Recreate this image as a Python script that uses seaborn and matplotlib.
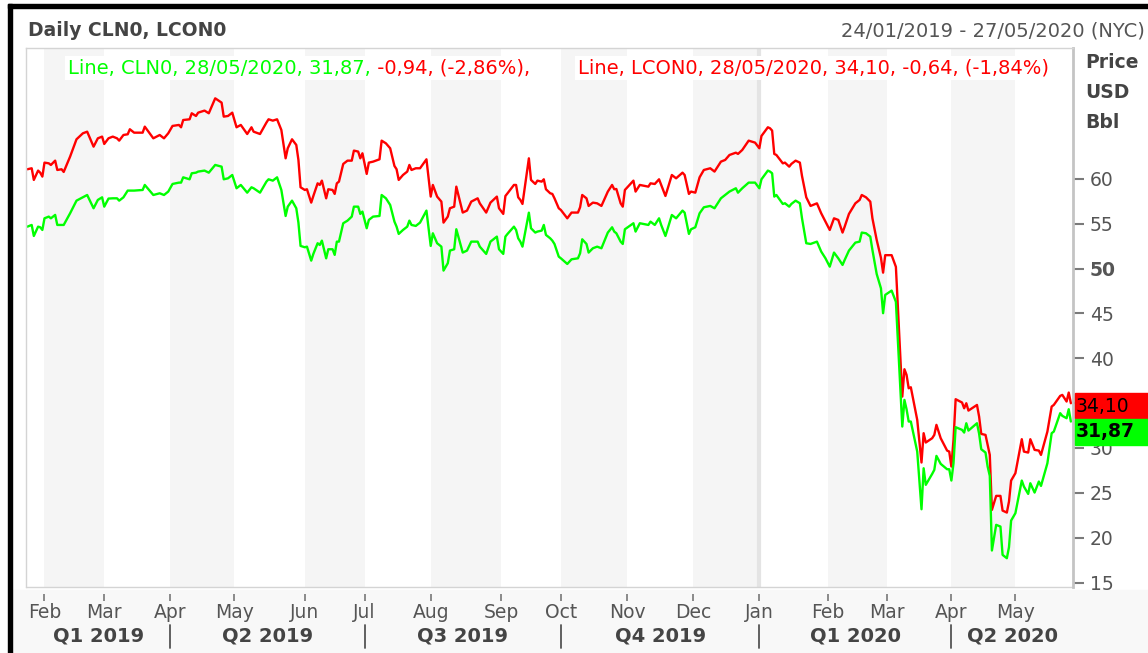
import matplotlib
matplotlib.use("Agg")
import matplotlib.pyplot as plt
import matplotlib.transforms as mtransforms
from matplotlib.patches import Rectangle
import pandas as pd
import seaborn as sns

# dates (one line per month)
dates = [
    "2019-01-24", "2019-01-26", "2019-01-27", "2019-01-29", "2019-01-30", "2019-01-31",
    "2019-02-01", "2019-02-03", "2019-02-04", "2019-02-06", "2019-02-07", "2019-02-09", "2019-02-10",
    "2019-02-13", "2019-02-16", "2019-02-19", "2019-02-21", "2019-02-24", "2019-02-26", "2019-02-28",
    "2019-03-01", "2019-03-03", "2019-03-05", "2019-03-07", "2019-03-08", "2019-03-10", "2019-03-12",
    "2019-03-13", "2019-03-15", "2019-03-19", "2019-03-20", "2019-03-24", "2019-03-27", "2019-03-29", "2019-03-31",
    "2019-04-02", "2019-04-05", "2019-04-06", "2019-04-07", "2019-04-10", "2019-04-11", "2019-04-13",
    "2019-04-14", "2019-04-17", "2019-04-19", "2019-04-22", "2019-04-25", "2019-04-26", "2019-04-28", "2019-04-30",
    "2019-05-02", "2019-05-04", "2019-05-07", "2019-05-09", "2019-05-10", "2019-05-13", "2019-05-16", "2019-05-17",
    "2019-05-19", "2019-05-21", "2019-05-23", "2019-05-25", "2019-05-26", "2019-05-28", "2019-05-30", "2019-05-31",
    "2019-06-01", "2019-06-03", "2019-06-04", "2019-06-06", "2019-06-07", "2019-06-09", "2019-06-10",
    "2019-06-11", "2019-06-13", "2019-06-14", "2019-06-16", "2019-06-17", "2019-06-18", "2019-06-19",
    "2019-06-21", "2019-06-23", "2019-06-25", "2019-06-26", "2019-06-28", "2019-06-29", "2019-06-30",
    "2019-07-02", "2019-07-03", "2019-07-05", "2019-07-08", "2019-07-09", "2019-07-11", "2019-07-13", "2019-07-15",
    "2019-07-16", "2019-07-17", "2019-07-19", "2019-07-21", "2019-07-22", "2019-07-23", "2019-07-25", "2019-07-27", "2019-07-30",
    "2019-08-01", "2019-08-02", "2019-08-04", "2019-08-06", "2019-08-07", "2019-08-09", "2019-08-10", "2019-08-12",
    "2019-08-13", "2019-08-16", "2019-08-18", "2019-08-20", "2019-08-23", "2019-08-24", "2019-08-27", "2019-08-29",
    "2019-09-01", "2019-09-02", "2019-09-04", "2019-09-05", "2019-09-06", "2019-09-09", "2019-09-10",
    "2019-09-11", "2019-09-12", "2019-09-13", "2019-09-16", "2019-09-17", "2019-09-19", "2019-09-20",
    "2019-09-22", "2019-09-23", "2019-09-24", "2019-09-26", "2019-09-27", "2019-09-28", "2019-09-30",
    "2019-10-01", "2019-10-04", "2019-10-06", "2019-10-09", "2019-10-10", "2019-10-11", "2019-10-13", "2019-10-14", "2019-10-16",
    "2019-10-18", "2019-10-20", "2019-10-23", "2019-10-25", "2019-10-26", "2019-10-27", "2019-10-29", "2019-10-30", "2019-10-31",
    "2019-11-04", "2019-11-05", "2019-11-07", "2019-11-11", "2019-11-12", "2019-11-14", "2019-11-16",
    "2019-11-17", "2019-11-19", "2019-11-22", "2019-11-24", "2019-11-27", "2019-11-28", "2019-11-30",
    "2019-12-01", "2019-12-03", "2019-12-05", "2019-12-07", "2019-12-10", "2019-12-12", "2019-12-15",
    "2019-12-17", "2019-12-19", "2019-12-22", "2019-12-23", "2019-12-25", "2019-12-28", "2019-12-31",
    "2020-01-02", "2020-01-03", "2020-01-06", "2020-01-07", "2020-01-08", "2020-01-09", "2020-01-10", "2020-01-13", "2020-01-14",
    "2020-01-16", "2020-01-17", "2020-01-19", "2020-01-21", "2020-01-22", "2020-01-24", "2020-01-26", "2020-01-29", "2020-01-31",
    "2020-02-02", "2020-02-04", "2020-02-06", "2020-02-08", "2020-02-10", "2020-02-11", "2020-02-13", "2020-02-16",
    "2020-02-18", "2020-02-19", "2020-02-21", "2020-02-23", "2020-02-24", "2020-02-26", "2020-02-28", "2020-02-29",
    "2020-03-01", "2020-03-04", "2020-03-06", "2020-03-09", "2020-03-10", "2020-03-11", "2020-03-12", "2020-03-13", "2020-03-16",
    "2020-03-18", "2020-03-19", "2020-03-20", "2020-03-23", "2020-03-24", "2020-03-25", "2020-03-27", "2020-03-30", "2020-03-31",
    "2020-04-01", "2020-04-02", "2020-04-03", "2020-04-06", "2020-04-07", "2020-04-08", "2020-04-09", "2020-04-13", "2020-04-14", "2020-04-15",
    "2020-04-17", "2020-04-18", "2020-04-19", "2020-04-20", "2020-04-22", "2020-04-24", "2020-04-25", "2020-04-27", "2020-04-28", "2020-04-29",
    "2020-05-01", "2020-05-04", "2020-05-05", "2020-05-07", "2020-05-08", "2020-05-10", "2020-05-12", "2020-05-13",
    "2020-05-16", "2020-05-18", "2020-05-19", "2020-05-22", "2020-05-23", "2020-05-25", "2020-05-26", "2020-05-27",
]

# Brent (LCON0), red line
lcon0 = [
    61.08, 61.19, 59.89, 60.93, 60.70, 60.26,
    61.82, 61.74, 61.56, 62.04, 61.00, 61.08, 60.78, 62.49, 64.42, 65.09, 65.27, 63.60, 64.53, 64.72,
    63.90, 64.53, 64.72, 64.53, 64.27, 64.90, 64.98, 65.54, 65.16, 65.16, 65.83, 64.53, 64.90, 64.53, 65.09,
    65.91, 66.02, 65.76, 66.57, 66.65, 67.32, 67.02, 67.39, 67.62, 67.32, 68.99, 68.51, 66.95, 67.02, 67.39,
    65.76, 66.02, 65.01, 65.76, 65.27, 65.01, 66.28, 66.65, 66.50, 66.65, 65.46, 62.30, 63.42, 64.42, 63.79, 62.12,
    59.07, 58.77, 58.85, 57.36, 58.10, 59.51, 59.33, 59.81, 57.84, 58.85, 58.77, 58.33, 59.51, 59.70,
    61.67, 62.04, 62.04, 63.16, 63.05, 62.30, 62.86,
    60.56, 61.82, 61.93, 62.19, 64.27, 63.97, 63.42, 61.45, 61.08, 59.89, 60.44, 60.82, 61.56, 61.00, 61.19, 61.19, 62.19,
    58.03, 59.33, 58.03, 57.47, 55.13, 55.80, 56.73, 56.91, 59.14, 56.25, 56.47, 57.47, 57.84, 57.28, 56.25, 57.36,
    58.03, 56.73, 56.10, 58.10, 58.40, 59.33, 59.33, 57.95, 57.66, 57.21, 62.30, 59.89, 59.44, 59.81,
    59.70, 59.96, 58.85, 58.40, 58.33, 57.84, 56.73,
    56.54, 55.61, 56.25, 56.25, 56.84, 58.21, 57.84, 56.99, 57.36, 57.28, 56.99, 58.59, 59.33, 58.85, 58.88, 57.28, 56.91, 58.77,
    59.81, 58.59, 59.33, 59.14, 59.51, 59.44, 59.96, 59.33, 58.10, 60.44, 60.07, 60.70, 60.44, 58.33,
    58.59, 58.47, 60.18, 61.00, 61.19, 60.82, 61.93, 62.12, 62.67, 62.93, 62.79, 63.23, 64.27, 64.05,
    63.42, 64.79, 65.76, 65.65, 65.39, 62.79, 62.67, 61.74, 61.82, 61.37, 61.67, 62.04, 61.82, 60.33, 57.95, 56.99, 57.28, 56.17,
    55.24, 54.31, 55.61, 55.43, 54.02, 54.68, 56.10, 57.28, 57.66, 58.21, 57.95, 57.47, 55.61, 53.20, 51.20, 49.55,
    51.50, 51.50, 50.20, 35.73, 38.78, 38.15, 36.66, 36.77, 33.13, 28.38, 31.65, 30.61, 31.09, 31.46, 32.58, 31.09, 29.71, 29.60,
    27.93, 30.90, 35.44, 35.07, 34.43, 34.99, 34.17, 34.80, 33.50, 31.57,
    31.46, 30.35, 29.23, 23.10, 24.66, 24.66, 23.02, 22.80, 24.03, 26.37,
    27.19, 30.98, 29.60, 29.49, 30.98, 29.79, 29.71, 29.23, 31.83, 34.62, 34.80, 35.81, 35.92, 35.18, 36.18, 34.99,
]

# WTI (CLN0), green line
cln0 = [
    54.68, 54.87, 53.64, 54.68, 54.61, 54.31,
    55.61, 55.80, 55.61, 55.99, 54.87, 54.87, 54.87, 56.17, 57.58, 57.95, 58.21, 56.73, 57.66, 57.95,
    56.91, 57.81, 57.84, 57.84, 57.58, 57.95, 58.70, 58.70, 58.70, 58.77, 59.33, 58.21, 58.40, 58.21, 58.59,
    59.44, 59.59, 59.59, 60.18, 59.96, 60.63, 60.70, 60.82, 60.93, 60.70, 61.56, 61.37, 59.96, 60.07, 60.44,
    58.96, 59.33, 58.47, 59.07, 58.96, 58.47, 59.70, 59.96, 59.81, 60.18, 58.77, 55.87, 56.91, 57.58, 56.73, 55.13,
    52.53, 52.38, 52.45, 50.89, 51.64, 52.83, 52.64, 53.12, 51.15, 52.16, 52.16, 51.53, 53.01, 53.01,
    55.06, 55.35, 55.80, 56.91, 56.91, 56.10, 56.36,
    54.50, 55.43, 55.80, 55.87, 58.21, 57.84, 57.10, 55.24, 54.68, 53.87, 54.31, 54.68, 55.35, 54.87, 54.76, 55.13, 56.47,
    52.53, 53.94, 52.83, 52.45, 49.78, 50.60, 52.01, 52.16, 54.39, 51.79, 52.01, 53.01, 53.01, 52.45, 51.64, 53.01,
    53.57, 52.16, 51.64, 53.57, 53.87, 54.68, 54.31, 53.38, 53.01, 52.45, 56.24, 54.50, 54.02, 54.13,
    54.24, 54.87, 53.76, 53.38, 53.12, 52.75, 51.34,
    51.15, 50.52, 51.04, 51.15, 51.71, 53.27, 52.75, 51.79, 52.27, 52.45, 52.27, 54.02, 54.61, 54.13, 53.94, 53.01, 52.75, 54.39,
    55.06, 54.13, 55.06, 54.87, 55.24, 54.87, 55.61, 54.87, 53.64, 55.98, 55.61, 56.47, 56.24, 53.87,
    54.39, 54.61, 56.17, 56.84, 56.99, 56.73, 57.84, 58.21, 58.59, 58.96, 58.47, 58.96, 59.59, 59.59,
    58.96, 59.96, 60.93, 60.82, 60.63, 58.03, 58.21, 57.21, 57.29, 56.91, 57.21, 57.58, 57.29, 55.61, 52.83, 52.75, 53.01, 51.90,
    51.15, 50.22, 51.79, 51.15, 50.41, 50.97, 52.01, 52.90, 53.01, 54.02, 53.94, 53.57, 52.08, 49.40, 47.80, 45.03,
    47.07, 47.55, 46.30, 32.39, 35.36, 34.32, 32.95, 32.95, 29.60, 23.17, 27.74, 25.89, 27.11, 27.56, 29.12, 28.23, 27.63, 27.63,
    26.37, 28.30, 32.32, 32.02, 31.72, 32.76, 31.94, 32.76, 31.60, 29.86,
    29.49, 27.93, 26.89, 18.57, 21.43, 21.24, 18.08, 17.71, 18.94, 21.91,
    22.73, 26.37, 25.70, 24.88, 26.07, 25.03, 26.26, 25.77, 28.30, 31.65, 31.83, 33.88, 33.58, 33.32, 34.32, 32.95,
]

month_starts = ["2019-02-01", "2019-03-01", "2019-04-01", "2019-05-01", "2019-06-03", "2019-07-01",
                "2019-08-01", "2019-09-03", "2019-10-01", "2019-11-01", "2019-12-02", "2020-01-02",
                "2020-02-03", "2020-03-02", "2020-04-01", "2020-05-01"]
month_labels = ["Feb", "Mar", "Apr", "May", "Jun", "Jul", "Aug", "Sep", "Oct", "Nov", "Dec", "Jan",
                "Feb", "Mar", "Apr", "May"]
quarter_starts = ["2019-04-01", "2019-07-01", "2019-10-01", "2020-01-02", "2020-04-01"]
quarter_labels = ["Q1 2019", "Q2 2019", "Q3 2019", "Q4 2019", "Q1 2020", "Q2 2020"]
y_ticks = [15, 20, 25, 30, 35, 40, 45, 50, 55, 60]
y_labels = ["15", "20", "25", "30", "", "40", "45", "50", "55", "60"]  # 35 sits under the value boxes

GREEN = "#00ff00"
RED = "#ff0000"
FS = 14

sns.set_theme(style="white")
plt.rcParams["font.family"] = ["DejaVu Sans"]

W, H = 1148, 653
fig = plt.figure(figsize=(W / 100, H / 100), dpi=100)
fig.patch.set_facecolor("white")
ax = fig.add_axes([26 / W, 1 - 587 / H, (1073 - 26) / W, (587 - 48) / H])

df = pd.DataFrame({"date": pd.to_datetime(dates), "CLN0": cln0, "LCON0": lcon0})
x0 = pd.Timestamp("2019-01-23 08:00")
x1 = pd.Timestamp("2020-05-28")

# alternate month shading
ms = pd.to_datetime(month_starts)
for i in range(0, len(ms) - 1, 2):
    ax.axvspan(ms[i], ms[i + 1], color="#f5f5f5", lw=0, zorder=0)
ax.axvline(pd.Timestamp("2020-01-02"), color="#e4e4e4", lw=3, zorder=0.5)

sns.lineplot(data=df, x="date", y="LCON0", color=RED, lw=1.7, ax=ax)
sns.lineplot(data=df, x="date", y="CLN0", color=GREEN, lw=1.7, ax=ax)

ax.set_xlim(x0, x1)
ax.set_ylim(14.5, 74.6)
ax.set_xlabel("")
ax.set_ylabel("")

for s in ["left", "top"]:
    ax.spines[s].set_color("#d4d4d4")
    ax.spines[s].set_linewidth(1)
ax.spines["right"].set_color("#c4c4c4")
ax.spines["right"].set_linewidth(2)
ax.spines["bottom"].set_position(("outward", 5))
ax.spines["bottom"].set_visible(False)
ax.plot([0, 1], [0, 0], transform=ax.transAxes, color="#d4d4d4", lw=1, clip_on=False)

# month ticks
ax.set_xticks(ms)
ax.set_xticklabels(month_labels)
ax.tick_params(axis="x", bottom=True, direction="out", length=5, width=1.2,
               color="#777777", labelcolor="#555555", labelsize=13.5, pad=1.5)

# price axis on the right
ax.yaxis.tick_right()
ax.set_yticks(y_ticks)
ax.set_yticklabels(y_labels)
ax.tick_params(axis="y", left=False, right=True, direction="out", length=8, width=1.5,
               color="#7a7a7a", labelcolor="#555555", labelsize=13.5, pad=4)
for lab in ax.get_yticklabels():
    if lab.get_text() == "50":
        lab.set_fontweight("bold")

# quarter row
trans = mtransforms.blended_transform_factory(ax.transData, ax.transAxes)
qs = [x0] + list(pd.to_datetime(quarter_starts)) + [x1]
for i, lab in enumerate(quarter_labels):
    mid = qs[i] + (qs[i + 1] - qs[i]) / 2
    ax.text(mid, -0.091, lab, transform=trans, ha="center", va="center",
            fontsize=FS, fontweight="bold", color="#444444")
for q in qs[1:-1]:
    ax.plot([q, q], [-0.070, -0.113], transform=trans, color="#555555", lw=1.3, clip_on=False)

# header texts
fig.text(28 / W, 1 - 31 / H, "Daily CLN0, LCON0", fontsize=13.5, fontweight="bold",
         color="#444444", va="center")
fig.text(1145 / W, 1 - 31 / H, "24/01/2019 - 27/05/2020 (NYC)", fontsize=FS,
         color="#555555", va="center", ha="right")

box = dict(facecolor="white", edgecolor="none", pad=2)
t1 = fig.text(68 / W, 1 - 68 / H, "Line, CLN0, 28/05/2020, 31,87,", fontsize=FS,
              color=GREEN, va="center", bbox=box)
ax.annotate(" -0,94, (-2,86%),", xy=(1, 0.5), xycoords=t1, va="center", ha="left",
            fontsize=FS, color=RED, bbox=box)
fig.text(578 / W, 1 - 68 / H, "Line, LCON0, 28/05/2020, 34,10, -0,64, (-1,84%)",
         fontsize=FS, color=RED, va="center", bbox=box)

for txt, yy in [("Price", 63), ("USD", 93), ("Bbl", 122)]:
    fig.text(1085 / W, 1 - yy / H, txt, fontsize=13.5, fontweight="bold",
             color="#444444", va="center")

# last value boxes
fig.add_artist(Rectangle((1075 / W, 1 - 418 / H), (W - 1075) / W, 25 / H,
                         transform=fig.transFigure, color=RED, zorder=5))
fig.add_artist(Rectangle((1075 / W, 1 - 445 / H), (W - 1075) / W, 26 / H,
                         transform=fig.transFigure, color=GREEN, zorder=5))
fig.text(1076 / W, 1 - 406 / H, "34,10", fontsize=13.5, color="black", va="center", zorder=6)
fig.text(1076 / W, 1 - 432 / H, "31,87", fontsize=13.5, fontweight="bold", color="black",
         va="center", zorder=6)

# page frame from the screenshot
fig.add_artist(Rectangle((12 / W, 0), 1, 63 / H, transform=fig.transFigure,
                         color="#f8f8f8", zorder=-1))
fig.add_artist(Rectangle((8 / W, 0), 4 / W, 1 - 4 / H, transform=fig.transFigure,
                         color="black", zorder=7))
fig.add_artist(Rectangle((8 / W, 1 - 8 / H), 1, 4 / H, transform=fig.transFigure,
                         color="black", zorder=7))

fig.savefig("out.png", dpi=100)
